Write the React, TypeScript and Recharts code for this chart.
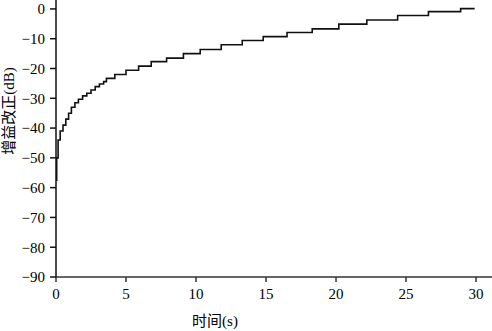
import React from 'react'
import { LineChart, Line, XAxis, YAxis } from 'recharts'

// time (s) at each step change, and the gain correction (dB) held from there on
const times = [
  0, 0.05, 0.15, 0.3, 0.5, 0.7, 0.9, 1.1, 1.35, 1.6, 1.9, 2.2, 2.5, 2.8, 3.1, 3.4,
  3.6, 4.2, 5.0, 5.9, 6.8, 7.9, 9.1, 10.3, 11.8, 13.3, 14.8, 16.5, 18.3, 20.2,
  22.2, 24.4, 26.6, 28.9, 29.9
]
const gains = [
  -57.5, -50, -44, -41, -39, -37, -35, -33, -31.5, -30.3, -29.2, -28.3, -27.2,
  -26.1, -25.2, -24.4, -23.3, -22, -20.6, -19.2, -17.7, -16.5, -15, -13.6, -12,
  -10.6, -9.3, -7.9, -6.7, -5.1, -3.7, -2.2, -0.9, 0.1, 0.1
]
const xTicks = [0, 5, 10, 15, 20, 25, 30]
const yTicks = [-90, -80, -70, -60, -50, -40, -30, -20, -10, 0]
const xTitle = '时间(s)'
const yTitle = '增益改正(dB)'

const data = times.map((t, i) => ({ t, g: gains[i] }))

if (typeof document !== 'undefined') document.body.style.margin = '0'

const SERIF = 'Liberation Serif'
const MIXED = '"Liberation Serif", "Noto Sans CJK SC"'

function fmt(v: number): string {
  return v < 0 ? '\u2212' + Math.abs(v) : String(v)
}

export default function App(): React.JSX.Element {
  return (
    <div style={{ position: 'relative', width: 492, height: 331, background: '#fff' }}>
      <LineChart width={492} height={331} data={data} margin={{ top: 0, right: 0, left: 0, bottom: 0 }}>
        <XAxis
          type="number"
          dataKey="t"
          domain={[0, 31.14]}
          ticks={xTicks}
          allowDataOverflow
          height={54}
          axisLine={{ stroke: '#333', strokeWidth: 1.5 }}
          tickLine={{ stroke: '#333', strokeWidth: 1.5 }}
          tickSize={5}
          tickMargin={6}
          tick={{ fill: '#000', fontSize: 15, fontFamily: SERIF }}
        />
        <YAxis
          type="number"
          domain={[-90, 3]}
          ticks={yTicks}
          allowDataOverflow
          width={56}
          axisLine={{ stroke: '#111', strokeWidth: 1.5 }}
          tickLine={{ stroke: '#111', strokeWidth: 1.5 }}
          tickSize={6}
          tickMargin={5}
          tickFormatter={fmt}
          tick={{ fill: '#000', fontSize: 15, fontFamily: SERIF }}
        />
        <Line
          type="stepAfter"
          dataKey="g"
          stroke="#111"
          strokeWidth={1.6}
          dot={false}
          isAnimationActive={false}
        />
      </LineChart>
      {/* axis titles */}
      <div
        style={{
          position: 'absolute',
          left: 215,
          top: 321,
          transform: 'translate(-50%, -50%)',
          fontFamily: MIXED,
          fontSize: 15,
          lineHeight: '15px',
          whiteSpace: 'nowrap',
          color: '#000'
        }}
      >
        {xTitle}
      </div>
      <div
        style={{
          position: 'absolute',
          left: 9,
          top: 111,
          transform: 'translate(-50%, -50%) rotate(-90deg)',
          fontFamily: MIXED,
          fontSize: 15,
          lineHeight: '15px',
          whiteSpace: 'nowrap',
          color: '#000'
        }}
      >
        {yTitle}
      </div>
    </div>
  )
}
